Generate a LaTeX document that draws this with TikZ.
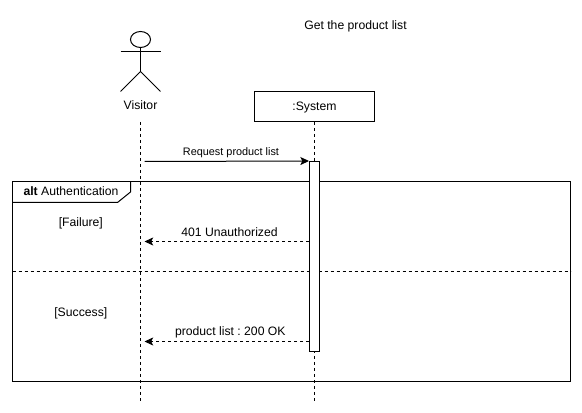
\documentclass[tikz,border=0pt]{standalone}
\usepackage{fontspec}
\setmainfont{Liberation Sans}
\usetikzlibrary{arrows.meta}
\frenchspacing
\tikzset{
  line/.style={draw=black,line width=0.75pt},
  lifeline/.style={draw=black,line width=0.75pt,dash pattern=on 2.25pt off 2.25pt},
  msg/.style={line,-{Stealth[length=6.5pt,width=6pt,inset=1.5pt]}},
  ret/.style={msg,dash pattern=on 2.25pt off 2.25pt},
  label/.style={inner sep=0pt,font=\fontsize{9.15}{10.5}\selectfont,text=black,anchor=center},
  small/.style={label,font=\fontsize{8.15}{10}\selectfont},
  boxed/.style={line,fill=white,inner sep=0pt,minimum width=90pt,minimum height=22.5pt}
}
\begin{document}
\begin{tikzpicture}[x=0.75pt,y=-0.75pt]
\useasboundingbox (0,0) rectangle (582,413);
\fill[white] (0,0) rectangle (582,413);
% lifelines (bottom layer)
\coordinate (vtop) at (140.5,122);
\coordinate (vbot) at (140.5,402);
\coordinate (stop) at (314.5,122);
\coordinate (sbot) at (314.5,402);
% frame
\draw[line] (12.5,181.5) rectangle (570.5,381.5);
\draw[line] (12.5,202.5) -- (117.5,202.5) -- (130.5,192) -- (130.5,181.5);
\draw[line,dash pattern=on 2.25pt off 2.25pt] (12.5,271.5) -- (570.5,271.5);
\draw[lifeline] (vtop) -- (vbot);
\draw[lifeline] (stop) -- (sbot);
% title
\node[label] (title) at (355.5,26.5) {Get the product list};
% actor
\draw[line] (140.5,39.5) ellipse [x radius=10,y radius=8];
\draw[line] (140.5,47.5) -- (140.5,71.5);
\draw[line] (120.5,51.5) -- (160.5,51.5);
\draw[line] (120.5,91.5) -- (140.5,71.5) -- (160.5,91.5);
\node[label] (visitor) at (140.5,105) {Visitor};
% system
\node[boxed] (system) at (314.5,106.5) {};
\node[label] (systemtext) at (314.5,107.3) {:System};
% activation
\node[line,fill=white,inner sep=0pt,minimum width=7.5pt,minimum height=142.5pt] (act) at (314.5,256.5) {};
% messages
\coordinate (v1) at (144.5,161.5);
\coordinate (v2) at (144.5,241.5);
\coordinate (v3) at (144.5,341.5);
\draw[msg] (v1) -- (act.north west);
\draw[ret] (act.west |- v2) -- (v2);
\draw[ret] (act.west |- v3) -- (v3);
% labels
\node[small] (req) at (231,152.8) {Request product list};
\node[label] (unauth) at (229.5,232) {401 Unauthorized};
\node[label] (ok) at (230.3,332) {product list : 200 OK};
\node[label] (fail) at (80.8,223) {[Failure]};
\node[label] (succ) at (80.8,313.2) {[Success]};
\node[label] (alt) at (71,191) {\textbf{alt} Authentication};
\end{tikzpicture}
\end{document}
